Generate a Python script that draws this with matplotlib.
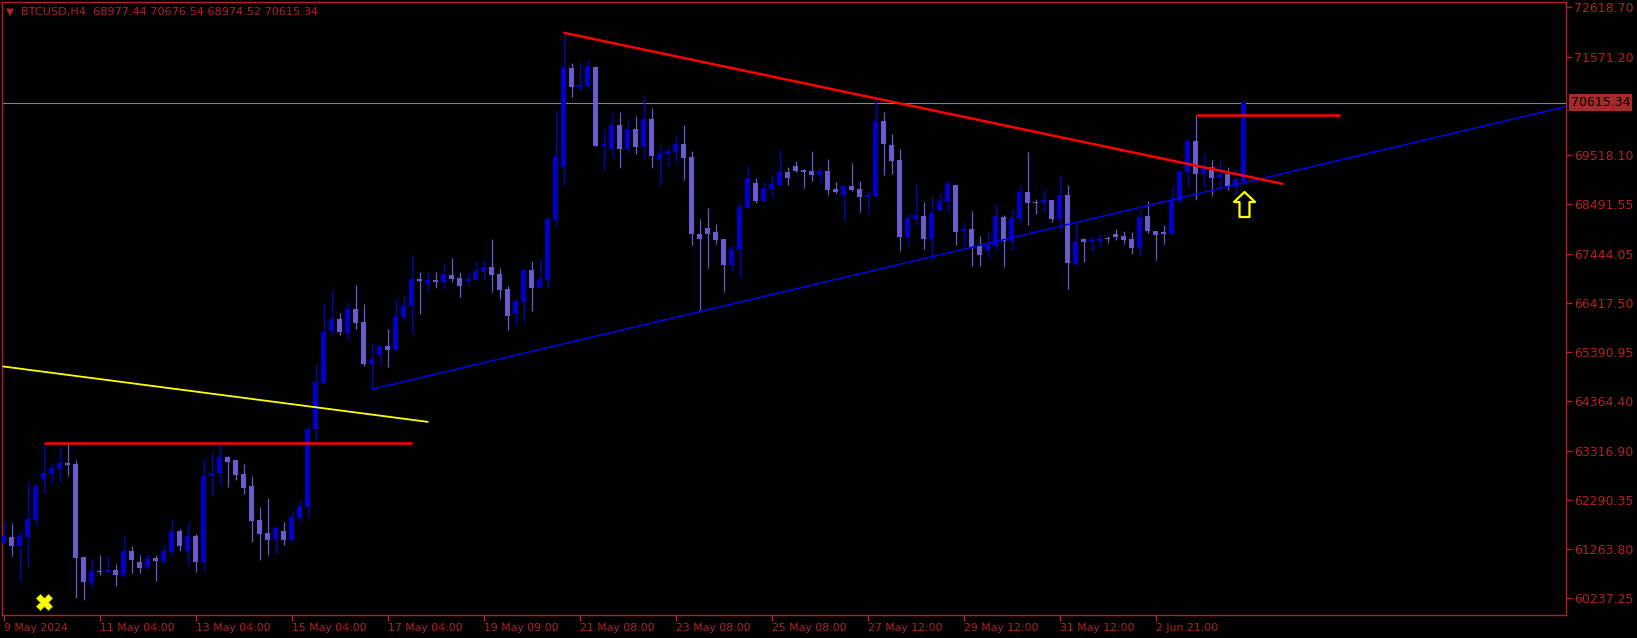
import matplotlib
matplotlib.use("Agg")
import matplotlib.pyplot as plt
import numpy as np
from matplotlib.path import Path

# ---------------- data ----------------
opens = [61382, 61515, 61326, 61515, 61871, 62730, 62842, 62940, 63065, 63044,
         61096, 60551, 60803, 60782, 60824, 60719, 61222, 60991, 60887, 61075,
         61012, 61201, 61641, 61222, 61536, 60991, 62800, 62856, 63191, 63128,
         62835, 62583, 61871, 61599, 61452, 61641, 61452, 61913, 62143, 63777,
         64742, 65831, 66083, 65789, 66292, 66020, 65140, 65328, 65517, 65433,
         66124, 66355, 66920, 66816, 66900, 66858, 67004, 66941, 66879, 66900,
         67067, 67172, 67025, 66711, 66187, 66439, 67109, 66732, 66899, 68156,
         69267, 71340, 70942, 70963, 71361, 69706, 69644, 70146, 69644, 70063,
         69685, 70272, 69413, 69539, 69581, 69748, 69476, 67863, 67989, 67905,
         67758, 67213, 67528, 68408, 68931, 68554, 68806, 68889, 69162, 69287,
         69204, 69183, 69099, 69183, 68806, 68680, 68868, 68806, 68638, 68659,
         70230, 69727, 69413, 67800, 68177, 68240, 67758, 68366, 68533, 68889,
         67926, 67968, 67612, 67528, 67612, 68219, 67717, 68177, 68743, 68534,
         68513, 68576, 68177, 68680, 67235, 67758, 67696, 67717, 67780, 67863,
         67821, 67759, 67570, 68240, 67926, 67905, 67863, 68555, 69162, 69811,
         69120, 69267, 69036, 69120, 68848, 68977.44]
highs = [61836, 61808, 61662, 62688, 62639, 63491, 63072, 63407, 63477, 63128,
         61096, 61033, 61138, 61117, 60949, 61536, 61326, 61138, 61159, 61138,
         61410, 61892, 61683, 61829, 61578, 63142, 63317, 63477, 63212, 63149,
         63044, 62793, 62143, 62332, 61745, 61829, 62039, 62290, 63860, 65139,
         66418, 66669, 66208, 66439, 66795, 66397, 65580, 65517, 65873, 66502,
         66585, 67423, 67067, 67067, 67067, 67256, 67360, 67067, 67046, 67298,
         67339, 67758, 67151, 66774, 66502, 67151, 67298, 67339, 68226, 70461,
         72081, 71445, 71466, 71508, 71382, 70063, 70398, 70419, 70272, 70335,
         70712, 70503, 69727, 69685, 69916, 70146, 69602, 68177, 68408, 68072,
         67758, 67632, 68512, 69287, 69036, 68952, 69099, 69622, 69267, 69392,
         69224, 69602, 69266, 69434, 68952, 68868, 69350, 68973, 68764, 70754,
         70419, 69958, 69643, 68303, 68931, 68533, 68659, 68722, 69015, 68889,
         68114, 68345, 67821, 67905, 68492, 68261, 68387, 68890, 69581, 68597,
         68806, 68576, 69099, 68890, 68094, 67779, 67821, 67884, 67821, 67968,
         67926, 67905, 68387, 68555, 67926, 68052, 68869, 69183, 69853, 70356,
         69560, 69414, 69414, 69267, 69225, 70676.54]
lows = [61360, 61124, 60593, 60893, 61745, 62416, 62667, 62667, 62793, 60244,
        60195, 60475, 60726, 60782, 60496, 60684, 60768, 60768, 60851, 60600,
        60949, 61138, 61222, 60907, 60782, 60803, 62381, 62604, 62562, 62709,
        62416, 61410, 61033, 61138, 61159, 61347, 61431, 61829, 61913, 63532,
        64720, 65747, 65747, 65643, 65873, 65098, 64595, 65119, 65077, 65412,
        66041, 65789, 66187, 66648, 66732, 66711, 66858, 66543, 66795, 66900,
        66900, 66648, 66502, 65852, 65978, 66020, 66250, 66732, 66739, 68003,
        68889, 70733, 70859, 70921, 69700, 69183, 69476, 69246, 69560, 69539,
        69455, 69246, 68889, 69287, 69371, 68994, 67632, 66229, 67151, 67653,
        66648, 67067, 66962, 68400, 68512, 68554, 68638, 68868, 68889, 69162,
        68827, 68973, 68952, 68680, 68722, 68156, 68764, 68324, 68282, 68617,
        69099, 69120, 67507, 67612, 68051, 67549, 67297, 68345, 68345, 67632,
        67612, 67193, 67193, 67361, 67528, 67172, 67507, 68073, 68052, 68282,
        68324, 68115, 67905, 66711, 67193, 67277, 67486, 67612, 67675, 67738,
        67654, 67444, 67423, 67884, 67319, 67654, 67863, 68513, 68869, 68575,
        68848, 68659, 68827, 68785, 68659, 68974.52]
closes = [61536, 61326, 61536, 61892, 62583, 62856, 62967, 63065, 63030, 61082,
          60572, 60796, 60782, 60824, 60726, 61222, 61033, 60866, 61075, 61012,
          61222, 61641, 61326, 61536, 60991, 62793, 62856, 63191, 63086, 62814,
          62541, 61850, 61578, 61452, 61704, 61452, 61934, 62164, 63777, 64762,
          65810, 66083, 65810, 66292, 65999, 65140, 65245, 65517, 65433, 66145,
          66376, 66920, 66879, 66900, 66858, 67025, 66920, 66774, 66920, 67088,
          67172, 67004, 66690, 66145, 66460, 67109, 66732, 66920, 68177, 69497,
          71361, 70942, 70984, 71382, 69706, 69748, 70146, 69644, 70063, 69685,
          70272, 69497, 69560, 69602, 69748, 69455, 67863, 67758, 67863, 67737,
          67213, 67549, 68428, 69036, 68554, 68827, 68910, 69162, 69036, 69183,
          69162, 69099, 69183, 68785, 68743, 68868, 68785, 68638, 68680, 70230,
          69748, 69392, 67800, 68198, 68261, 67758, 68303, 68554, 68910, 67905,
          67968, 67590, 67423, 67633, 68240, 67717, 68198, 68743, 68513, 68513,
          68576, 68177, 68680, 67256, 67696, 67696, 67738, 67780, 67759, 67800,
          67738, 67570, 68219, 67926, 67842, 67863, 68576, 69183, 69812, 69120,
          69267, 69036, 69120, 68869, 69016, 70615.34]

x_tick_bars = [0, 12, 24, 36, 48, 60, 72, 84, 96, 108, 120, 132, 144]
x_tick_labels = ["9 May 2024", "11 May 04:00", "13 May 04:00", "15 May 04:00",
                 "17 May 04:00", "19 May 09:00", "21 May 08:00", "23 May 08:00",
                 "25 May 08:00", "27 May 12:00", "29 May 12:00", "31 May 12:00",
                 "2 Jun 21:00"]
y_tick_values = [72618.70, 71571.20, 69518.10, 68491.55, 67444.05, 66417.50,
                 65390.95, 64364.40, 63316.90, 62290.35, 61263.80, 60237.25]

symbol_title = "BTCUSD,H4  68977.44 70676.54 68974.52 70615.34"
current_price = 70615.34

# drawn objects (bar index, price)
support_line = ([46, 195.3], [64609, 70532])        # blue trendline
resistance_line = ([70, 160], [72080, 68910])       # red trendline
yellow_line = ([0, 53], [65087, 63928])
red_level_1 = ([5, 51], [63491, 63491])
red_level_2 = ([149, 167], [70356, 70356])
cross_mark = (5, 60159)
arrow_mark = (155, 68491)

# ---------------- style ----------------
W, H = 1637, 638
BG = "black"
AXC = "#B22222"
BULL = "#0000CD"
BEAR = "#6A5ACD"

fig = plt.figure(figsize=(W / 100, H / 100), dpi=100, facecolor=BG)
ax_left, ax_right, ax_top, ax_bot = 2, 1566, 2, 615
ax = fig.add_axes([ax_left / W, 1 - ax_bot / H, (ax_right - ax_left) / W, (ax_bot - ax_top) / H])
ax.set_facecolor(BG)

px_per_bar = 8.0
x0_px = 3.5
ax.set_xlim((ax_left - x0_px) / px_per_bar, (ax_right - x0_px) / px_per_bar)
ppp = 20.95
ymax = 60237.25 + (598 - ax_top) * ppp
ymin = 60237.25 - (ax_bot - 598) * ppp
ax.set_ylim(ymin, ymax)

for s in ax.spines.values():
    s.set_color(AXC)
    s.set_linewidth(1)

# current price line
ax.axhline(current_price, color="#778899", lw=0.8, zorder=1)

# candles
n = len(opens)
xs = np.arange(n)
o = np.array(opens); h = np.array(highs); l = np.array(lows); c = np.array(closes)
col = np.where(c >= o, BULL, BEAR)
ax.vlines(xs, l, h, colors=col, lw=0.9, zorder=3)
bottom = np.minimum(o, c)
height = np.maximum(np.abs(c - o), ppp * 1.0)
ax.bar(xs, height, bottom=bottom, width=0.64, color=col, linewidth=0, zorder=4)

# drawn objects
ax.plot(*support_line, color="#0000FF", lw=1.0, zorder=5, solid_capstyle="butt")
ax.plot(*resistance_line, color="#FF0000", lw=1.8, zorder=5, solid_capstyle="butt")
ax.plot(*yellow_line, color="#FFFF00", lw=1.3, zorder=5)
ax.plot(*red_level_1, color="#FF0000", lw=1.8, zorder=5, solid_capstyle="butt")
ax.plot(*red_level_2, color="#FF0000", lw=1.8, zorder=5, solid_capstyle="butt")

ax.plot([cross_mark[0]], [cross_mark[1]], marker="X", ms=12, color="#FFFF00",
        markeredgecolor="#C8C800", markeredgewidth=0.5, zorder=6)

arrow_verts = [(0, 12.5), (10.5, 2.5), (5, 2.5), (5, -12.5), (-5, -12.5),
               (-5, 2.5), (-10.5, 2.5), (0, 12.5)]
arrow_path = Path(arrow_verts, [Path.MOVETO] + [Path.LINETO] * 6 + [Path.CLOSEPOLY])
ax.plot([arrow_mark[0]], [arrow_mark[1]], marker=arrow_path, ms=18,
        markerfacecolor="black", markeredgecolor="#FFFF00", markeredgewidth=1.6, zorder=6)

# axes ticks
ax.yaxis.tick_right()
ax.set_yticks(y_tick_values)
ax.set_yticklabels([f"{v:.2f}" for v in y_tick_values])
ax.tick_params(axis="y", colors=AXC, labelcolor=AXC, length=4, width=1,
               direction="out", pad=2, labelsize=9)
ax.set_xticks(x_tick_bars)
ax.set_xticklabels(x_tick_labels, ha="left")
ax.tick_params(axis="x", colors=AXC, labelcolor=AXC, length=4, width=1,
               direction="out", pad=2, labelsize=7.8)
for t in ax.get_yticklabels():
    t.set_fontfamily("DejaVu Sans")
for t in ax.get_xticklabels():
    t.set_fontfamily("DejaVu Sans")

# current price box
ax.annotate(f"{current_price:.2f}", xy=(1.0, current_price), xycoords=("axes fraction", "data"),
            xytext=(3.5, 0), textcoords="offset points", ha="left", va="center",
            fontsize=9, color="black", zorder=10, annotation_clip=False,
            bbox=dict(boxstyle="square,pad=0.15", fc="#A52A2A", ec="none"))

# title
fig.text(21 / W, 1 - 12 / H, symbol_title, color=AXC, fontsize=8.1, va="center", ha="left")
fig.text(6 / W, 1 - 12 / H, "▼", color=AXC, fontsize=7.5, va="center", ha="left")

fig.savefig("out.png", dpi=100, facecolor=BG)
